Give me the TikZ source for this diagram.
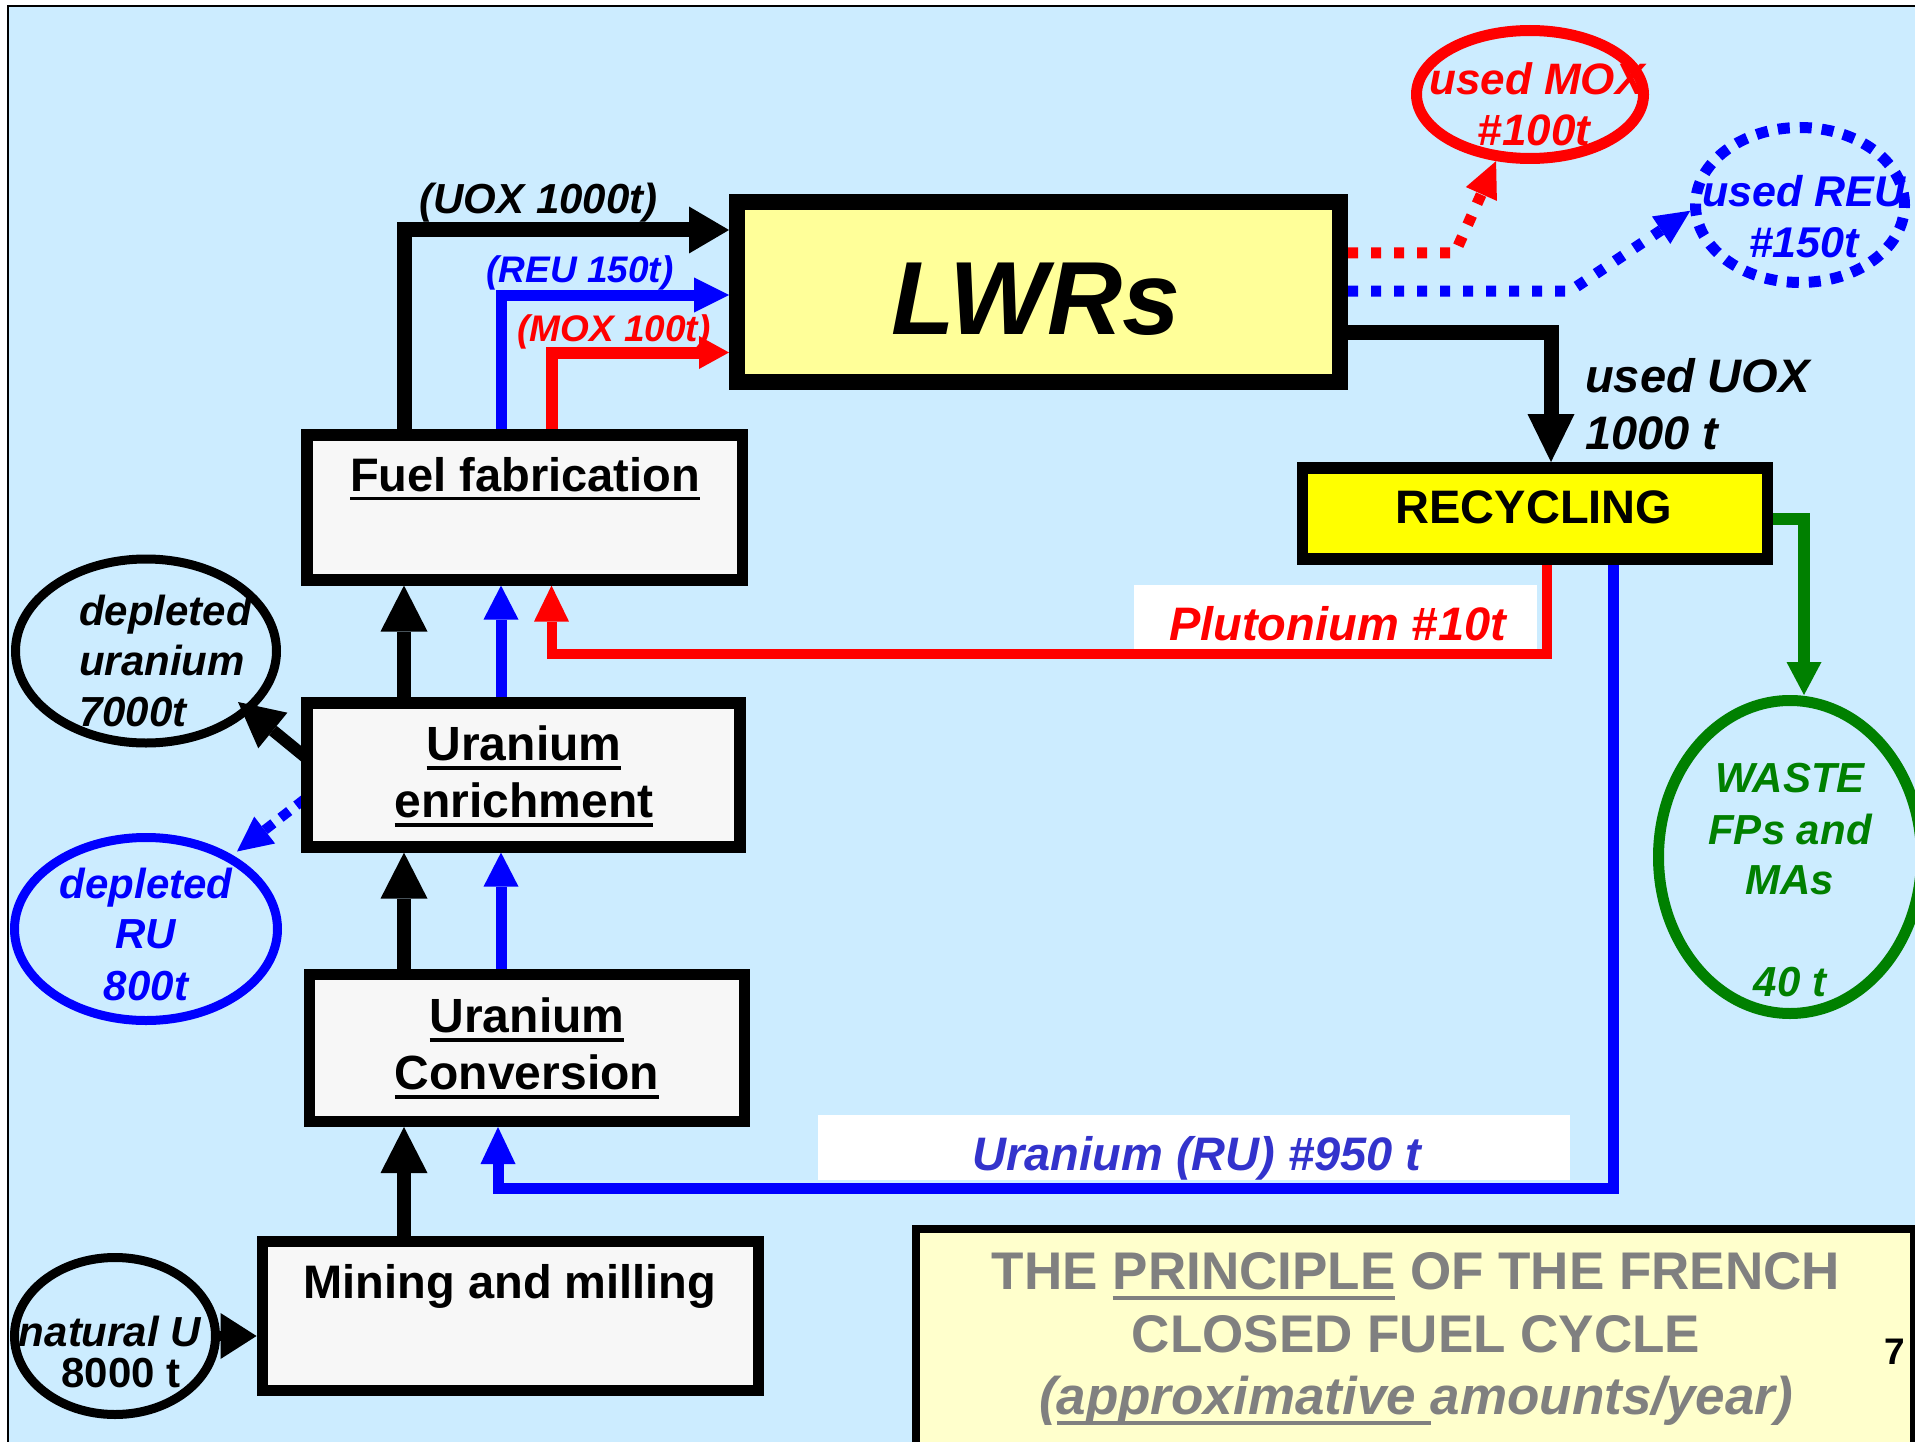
\documentclass[tikz,border=0pt]{standalone}
\usepackage{fontspec}
\setmainfont{Liberation Sans}
\usetikzlibrary{arrows.meta,shapes.geometric,calc}
\definecolor{bgblue}{HTML}{CCECFF}
\definecolor{lwrfill}{HTML}{FFFF99}
\definecolor{boxfill}{HTML}{F7F7F7}
\definecolor{recyfill}{HTML}{FFFF00}
\definecolor{titlefill}{HTML}{FFFFCC}
\definecolor{ured}{HTML}{FF0000}
\definecolor{ublue}{HTML}{0000FF}
\definecolor{ugreen}{HTML}{008000}
\definecolor{rutext}{HTML}{3333CC}
\definecolor{tgrey}{HTML}{808080}
\newcommand\fsz[1]{\fontsize{#1pt}{#1pt}\selectfont}
\newcommand\ulx[1]{\setbox0=\hbox{#1}\rlap{\rule[-0.2em]{\wd0}{0.08em}}\box0\relax}
\pgfdeclarelayer{back}
\pgfdeclarelayer{conn}
\pgfsetlayers{back,conn,main}
\begin{document}
\begin{tikzpicture}[x=1pt,y=-1pt,
  box/.style={draw=black, fill=boxfill, rectangle, inner sep=0pt, line width=11.5pt},
  ell/.style={ellipse, inner sep=0pt, line width=9pt},
  txt/.style={inner sep=0pt, anchor=base},
  bt/.style={txt, font=\fsz{#1}\bfseries},
  bi/.style={txt, font=\fsz{#1}\bfseries\itshape},
  kline/.style={draw=black, line width=14pt},
  dotline/.style={line width=11pt, dash pattern=on 10pt off 13pt}
]
\useasboundingbox (0,0) rectangle (1915,1442);
\begin{pgfonlayer}{back}
  \fill[white] (0,0) rectangle (1915,1442);
  \fill[bgblue] (8,6) rectangle (1915,1442);
  \fill[white] (1134,585) rectangle (1537,651);
  \fill[white] (818,1115) rectangle (1570,1180);
\end{pgfonlayer}

% boxes
\node[box, fill=lwrfill, line width=16pt, minimum width=603pt, minimum height=180pt] (lwr) at (1038.5,292) {};
\node[box, minimum width=435.5pt, minimum height=145pt] (fuel) at (524.5,507.3) {};
\node[box, line width=12pt, minimum width=433.4pt, minimum height=143.6pt] (enr) at (523.7,774.8) {};
\node[box, line width=11pt, minimum width=435pt, minimum height=147pt] (conv) at (527,1048) {};
\node[box, line width=11pt, minimum width=496.5pt, minimum height=149.5pt] (mine) at (510.3,1315.8) {};
\node[box, fill=recyfill, minimum width=464.7pt, minimum height=91.4pt] (recy) at (1534.9,513.5) {};
\node[box, fill=titlefill, line width=8pt, minimum width=998.4pt, minimum height=231pt] (title) at (1414.8,1344.5) {};

% ellipses
\node[ell, draw=black, minimum width=261pt, minimum height=184pt] (depU) at (146,651) {};
\node[ell, draw=ublue, minimum width=263pt, minimum height=183pt] (depRU) at (146,929) {};
\node[ell, draw=black, minimum width=201pt, minimum height=157pt] (natU) at (115,1336) {};
\node[ell, draw=ured, line width=11pt, minimum width=227pt, minimum height=128pt] (usedMOX) at (1530,94.5) {};
\node[ell, draw=ublue, line width=11pt, dash pattern=on 12pt off 10pt, minimum width=209pt, minimum height=155pt] (usedREU) at (1800,205) {};
\node[ell, draw=ugreen, line width=11pt, minimum width=263pt, minimum height=313pt] (waste) at (1790,857) {};

% helper coordinates
\coordinate (cK) at (404,0);
\coordinate (cB) at (501,0);
\coordinate (cB2) at (498,0);
\coordinate (cR) at (551.5,0);
\coordinate (yUOX) at (0,230);
\coordinate (yREU) at (0,295);
\coordinate (yMOX) at (0,352.5);
\coordinate (yUsedMOX) at (0,253);
\coordinate (yUsedREU) at (0,291);
\coordinate (yUsedUOX) at (0,332.5);
\coordinate (cU) at (1551,0);
\coordinate (cPu) at (1547,0);
\coordinate (yPu) at (0,654);
\coordinate (cRU) at (1613,0);
\coordinate (yRU) at (0,1188);
\coordinate (cG) at (1804,0);
\coordinate (yG) at (0,518.5);
\coordinate (kMOX) at (1455,253);
\coordinate (kREU) at (1570,291);
\coordinate (tipDU) at (238,702);
\coordinate (tipDRU) at (237,851.5);

\begin{pgfonlayer}{conn}
  % natural U -> mining
  \draw[draw=black, line width=10pt, -{Triangle[length=36pt,width=46pt,line width=0pt]}] (natU.east) -- (natU.east -| mine.west);
  % vertical chain
  \draw[kline, -{Triangle[length=46pt,width=47pt,line width=0pt]}] (mine.north -| cK) -- (conv.south -| cK);
  \draw[kline, -{Triangle[length=46pt,width=47pt,line width=0pt]}] (conv.north -| cK) -- (enr.south -| cK);
  \draw[kline, -{Triangle[length=46pt,width=47pt,line width=0pt]}] (enr.north -| cK) -- (fuel.south -| cK);
  \draw[draw=ublue, line width=11pt, -{Triangle[length=34pt,width=35pt,line width=0pt]}] (conv.north -| cB) -- (enr.south -| cB);
  \draw[draw=ublue, line width=11pt, -{Triangle[length=34pt,width=35pt,line width=0pt]}] (enr.north -| cB) -- (fuel.south -| cB);
  % fuel -> LWR
  \draw[draw=black, line width=15pt, -{Triangle[length=40pt,width=47pt,line width=0pt]}] (fuel.north -| cK) |- (lwr.west |- yUOX);
  \draw[draw=ublue, line width=11pt, -{Triangle[length=35pt,width=35pt,line width=0pt]}] (fuel.north -| cB) |- (lwr.west |- yREU);
  \draw[draw=ured, line width=12pt, -{Triangle[length=30pt,width=33pt,line width=0pt]}] (fuel.north -| cR) |- (lwr.west |- yMOX);
  % LWR -> recycling
  \draw[draw=black, line width=15pt, -{Triangle[length=48pt,width=47pt,line width=0pt]}] (lwr.east |- yUsedUOX) -| (recy.north -| cU);
  % LWR -> used MOX / used REU
  \draw[draw=ured, dotline, -{Triangle[length=36pt,width=34pt,line width=0pt]}] (lwr.east |- yUsedMOX) -- (kMOX) -- (usedMOX.243);
  \draw[draw=ublue, dotline, -{Triangle[length=35pt,width=33pt,line width=0pt]}] (lwr.east |- yUsedREU) -- (kREU) -- (usedREU.183);
  % recycling -> waste
  \draw[draw=ugreen, line width=12pt, -{Triangle[length=33pt,width=35pt,line width=0pt]}] (recy.east |- yG) -| (waste.north -| cG);
  % plutonium return
  \draw[draw=ured, line width=10pt, -{Triangle[length=36pt,width=35pt,line width=0pt]}] (recy.south -| cPu) -- (cPu |- yPu) -- (cR |- yPu) -- (fuel.south -| cR);
  % uranium return
  \draw[draw=ublue, line width=11pt, -{Triangle[length=37pt,width=35pt,line width=0pt]}] (recy.south -| cRU) -- (cRU |- yRU) -- (cB2 |- yRU) -- (conv.south -| cB2);
  % enrichment -> depleted
  \draw[draw=black, line width=12pt, -{Triangle[length=45pt,width=46pt,line width=0pt]}] ($(enr.west)+(4,-18)$) -- (tipDU);
  \draw[draw=ublue, line width=10pt, dash pattern=on 11pt off 9pt, -{Triangle[length=35pt,width=34pt,line width=0pt]}] ($(enr.west)+(4,24)$) -- (tipDRU);
\end{pgfonlayer}

% texts
\node[bi=104] (tLWR) at (1036,334) {LWRs};
\node[bt=47] (tFuel) at (525,491) {\ulx{Fuel fabrication}};
\node[bt=48] (tEnr1) at (524,760.5) {\ulx{Uranium}};
\node[bt=48] (tEnr2) at (524,817) {\ulx{enrichment}};
\node[bt=48] (tConv1) at (527,1032) {\ulx{Uranium}};
\node[bt=48] (tConv2) at (527,1089) {\ulx{Conversion}};
\node[bt=47] (tMine) at (510,1298) {Mining and milling};
\node[bt=47] (tRecy) at (1534,523.5) {RECYCLING};
\node[bi=47, anchor=base west] (tUU1) at (1585,392) {used UOX};
\node[bi=47, anchor=base west] (tUU2) at (1585,449.7) {1000 t};
\node[bi=42] (tUOX) at (538.5,214) {(UOX 1000t)};
\node[bi=37, text=ublue] (tREU) at (580,283) {(REU 150t)};
\node[bi=37, text=ured] (tMOX) at (614,341.5) {(MOX 100t)};
\node[bi=47, text=ured] (tPu) at (1337.5,640) {Plutonium \#10t};
\node[bi=47, text=rutext] (tRU) at (1197,1170) {Uranium (RU) \#950 t};
\node[bi=44, text=ured] (tUM1) at (1537,95) {used MOX};
\node[bi=44, text=ured] (tUM2) at (1534,145.4) {\#100t};
\node[bi=43, text=ublue] (tUR1) at (1804,206.7) {used REU};
\node[bi=43, text=ublue] (tUR2) at (1804,258) {\#150t};
\node[bi=42, anchor=base west] (tDU1) at (79,625.6) {depleted};
\node[bi=42, anchor=base west] (tDU2) at (79,675) {uranium};
\node[bi=42, anchor=base west] (tDU3) at (79,726) {7000t};
\node[bi=42, text=ublue] (tDR1) at (146,898) {depleted};
\node[bi=42, text=ublue] (tDR2) at (146,948) {RU};
\node[bi=42, text=ublue] (tDR3) at (146,1000.5) {800t};
\node[bi=42] (tNat1) at (110,1346) {natural U};
\node[bt=42] (tNat2) at (121,1387) {8000 t};
\node[bi=42, text=ugreen] (tW1) at (1790,792) {WASTE};
\node[bi=42, text=ugreen] (tW2) at (1790,844) {FPs and};
\node[bi=42, text=ugreen] (tW3) at (1790,894) {MAs};
\node[bi=42, text=ugreen] (tW4) at (1790,996.5) {40 t};
\node[bt=53, text=tgrey] (tT1) at (1416,1289.5) {THE \ulx{PRINCIPLE} OF THE FRENCH};
\node[bt=53, text=tgrey] (tT2) at (1416,1352) {CLOSED FUEL CYCLE};
\node[bi=53, text=tgrey] (tT3) at (1416,1414.6) {(\ulx{approximative }amounts/year)};
\node[bt=37] (t7) at (1894.5,1364) {7};

% frame
\draw[line width=2pt] (8,1442) -- (8,6) -- (1915,6);
\end{tikzpicture}
\end{document}
